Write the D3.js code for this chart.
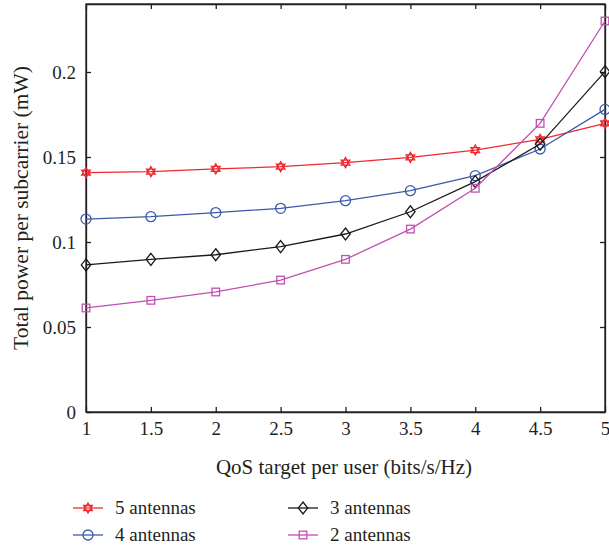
<html>
<head>
<script src="https://d3js.org/d3.v7.min.js"></script>
<style>
  body { margin: 0; background: #fff; }
</style>
</head>
<body>
<div id="chart"></div>
<script>
const qos = [1, 1.5, 2, 2.5, 3, 3.5, 4, 4.5, 5];
const ant5 = [0.1408, 0.1414, 0.1430, 0.1443, 0.1467, 0.1498, 0.1541, 0.1604, 0.1698];
const ant4 = [0.1135, 0.1149, 0.1173, 0.1198, 0.1243, 0.1302, 0.1390, 0.1547, 0.1780];
const ant3 = [0.0865, 0.0898, 0.0925, 0.0973, 0.1047, 0.1178, 0.1355, 0.1576, 0.2002];
const ant2 = [0.0612, 0.0657, 0.0706, 0.0776, 0.0898, 0.1076, 0.1316, 0.1698, 0.2300];
const xTicks = [1, 1.5, 2, 2.5, 3, 3.5, 4, 4.5, 5];
const yTicks = [0, 0.05, 0.1, 0.15, 0.2];

const series = [
  { name: "5 antennas", values: ant5, color: "#ee2a2e", marker: "hexagram" },
  { name: "4 antennas", values: ant4, color: "#3c5aa8", marker: "circle" },
  { name: "3 antennas", values: ant3, color: "#1a1a1a", marker: "diamond" },
  { name: "2 antennas", values: ant2, color: "#c150b2", marker: "square" }
];

const FONT = "'Liberation Serif', 'Times New Roman', 'DejaVu Serif', serif";
const INK = "#231f20";

const W = 609, H = 549;
const margin = { top: 4, right: 4, bottom: 137, left: 86 };
const width = W - margin.left - margin.right,
      height = H - margin.top - margin.bottom;

const svg = d3.select("#chart").append("svg")
  .attr("width", W).attr("height", H);
const g = svg.append("g")
  .attr("transform", "translate(" + margin.left + "," + margin.top + ")");

const x = d3.scaleLinear().domain([1, 5]).range([0, width]);
const y = d3.scaleLinear().domain([0, 0.24]).range([height, 0]);

// axes with inward ticks
const fmtY = d => d === 0 ? "0" : String(d);
g.append("g").attr("transform", "translate(0," + height + ")")
  .call(d3.axisBottom(x).tickValues(xTicks).tickSizeInner(-5).tickSizeOuter(0).tickPadding(10).tickFormat(d => String(d)));
g.append("g")
  .call(d3.axisLeft(y).tickValues(yTicks).tickSizeInner(-5).tickSizeOuter(0).tickPadding(10).tickFormat(fmtY));
g.append("g").attr("transform", "translate(" + width + ",0)")
  .call(d3.axisRight(y).tickValues(yTicks).tickSizeInner(-5).tickSizeOuter(0).tickFormat(""));
g.append("g")
  .call(d3.axisTop(x).tickValues(xTicks).tickSizeInner(-5).tickSizeOuter(0).tickFormat(""));
g.selectAll(".domain, .tick line").attr("stroke", INK).attr("stroke-width", 1.3);
g.selectAll(".tick text").attr("fill", INK).style("font-family", FONT).style("font-size", "19px");

g.append("rect").attr("width", width).attr("height", height)
  .attr("fill", "none").attr("stroke", INK).attr("stroke-width", 1.3);

// marker drawing
function hexagram(r) {
  const tri = a => d3.range(3).map(i => {
    const t = a + i * 2 * Math.PI / 3;
    return [r * Math.sin(t), -r * Math.cos(t)];
  });
  const p = pts => "M" + pts.map(q => q.join(",")).join("L") + "Z";
  return p(tri(0)) + p(tri(Math.PI));
}
function drawMarker(sel, type, color) {
  if (type === "circle") {
    sel.append("circle").attr("r", 5);
  } else if (type === "square") {
    sel.append("rect").attr("x", -3.8).attr("y", -3.8).attr("width", 7.6).attr("height", 7.6);
  } else if (type === "diamond") {
    sel.append("path").attr("d", "M0,-6L4.7,0L0,6L-4.7,0Z");
  } else {
    sel.append("path").attr("d", hexagram(5));
  }
  sel.selectAll("*").attr("fill", "none").attr("stroke", color).attr("stroke-width", 1.3);
}

const line = d3.line().x((d, i) => x(qos[i])).y(d => y(d));

series.forEach(s => {
  g.append("path").datum(s.values)
    .attr("d", line).attr("fill", "none")
    .attr("stroke", s.color).attr("stroke-width", 1.3);
  s.values.forEach((v, i) => {
    const m = g.append("g").attr("transform", "translate(" + x(qos[i]) + "," + y(v) + ")");
    drawMarker(m, s.marker, s.color);
  });
});

// axis titles
svg.append("text")
  .attr("x", 344).attr("y", 474)
  .attr("text-anchor", "middle").attr("fill", INK)
  .style("font-family", FONT).style("font-size", "21px")
  .text("QoS target per user (bits/s/Hz)");
svg.append("text")
  .attr("transform", "translate(28,208) rotate(-90)")
  .attr("text-anchor", "middle").attr("fill", INK)
  .style("font-family", FONT).style("font-size", "21.5px")
  .text("Total power per subcarrier (mW)");

// legend
const legendPos = [[73, 508], [73, 535], [288, 508], [288, 535]];
series.forEach((s, i) => {
  const [lx, ly] = legendPos[i];
  const lg = svg.append("g").attr("transform", "translate(" + lx + "," + ly + ")");
  lg.append("line").attr("x1", 0).attr("x2", 30).attr("y1", 0).attr("y2", 0)
    .attr("stroke", s.color).attr("stroke-width", 1.3);
  const m = lg.append("g").attr("transform", "translate(15,0)");
  drawMarker(m, s.marker, s.color);
  lg.append("text").attr("x", 42).attr("y", 6).attr("fill", INK)
    .style("font-family", FONT).style("font-size", "19px").text(s.name);
});
</script>
</body>
</html>
